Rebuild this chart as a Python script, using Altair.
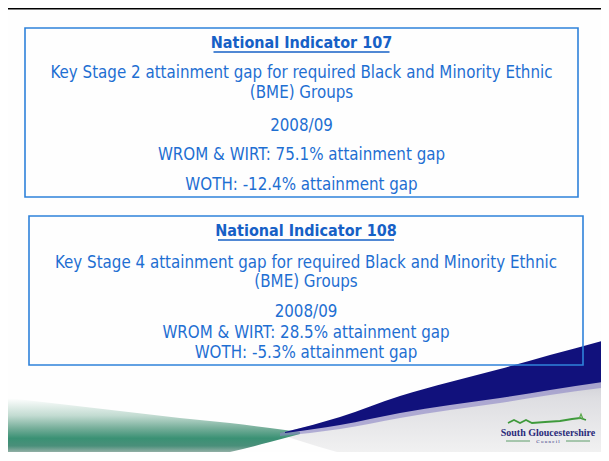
import altair as alt
import pandas as pd

# ---------------- content ----------------
indicators = [107, 108]
key_stages = [2, 4]
year = "2008/09"
wrom_wirt_gap = [75.1, 28.5]
woth_gap = [-12.4, -5.3]
logo_name = "South Gloucestershire"
logo_sub = "C o u n c i l"

# ---------------- layout (original pixel coordinates) ----------------
X0, X1 = 8, 601
Y0, Y1 = 8, 452
boxes = pd.DataFrame({
    "x": [25, 29], "x2": [578, 583], "y": [28, 216], "y2": [197, 365]
})
centers = [301.5, 306]
row_y = [[43, 73, 93, 126, 155, 185], [231, 263, 282, 312, 333, 353]]
underline_y = [52, 240]
underline_half = 88

FONT = "DejaVu Sans Condensed"
TXT_COLOR = "#1e6fd2"
TITLE_COLOR = "#1660c6"

titles, bodies = [], []
for i in range(2):
    lines = [
        f"National Indicator {indicators[i]}",
        f"Key Stage {key_stages[i]} attainment gap for required Black and Minority Ethnic",
        "(BME) Groups",
        year,
        f"WROM & WIRT: {wrom_wirt_gap[i]}% attainment gap",
        f"WOTH: {woth_gap[i]}% attainment gap",
    ]
    titles.append({"t": lines[0], "x": centers[i], "y": row_y[i][0]})
    for j in range(1, 6):
        bodies.append({"t": lines[j], "x": centers[i], "y": row_y[i][j]})
titles = pd.DataFrame(titles)
bodies = pd.DataFrame(bodies)
underlines = pd.DataFrame({
    "x": [c - underline_half for c in centers],
    "x2": [c + underline_half for c in centers],
    "y": underline_y,
})

xs = alt.Scale(domain=[X0, X1], nice=False, zero=False)
ys = alt.Scale(domain=[Y1, Y0], nice=False, zero=False)


def X(f="x"):
    return alt.X(f"{f}:Q", scale=xs, axis=None)


def Y(f="y"):
    return alt.Y(f"{f}:Q", scale=ys, axis=None)


def grad(stops, vertical=True):
    return alt.Gradient(
        gradient="linear",
        stops=[alt.GradientStop(color=c, offset=o) for o, c in stops],
        x1=0, y1=0, x2=0 if vertical else 1, y2=1 if vertical else 0,
    )


# ---------------- decorative swoosh ----------------
grey_x = [285, 330, 380, 430, 480, 540, 609]
grey_top = [434, 424, 409, 397, 388, 379, 372]
grey_bot = [436, 450, 461, 461, 461, 461, 461]
grey_df = pd.DataFrame({"x": grey_x, "y": grey_top, "y2": grey_bot})
grey = alt.Chart(grey_df).mark_area(
    interpolate="monotone",
    color=grad([(0, "#c9c9d1"), (0.3, "#dedee2"), (1, "#f4f4f4")]),
).encode(x=X(), y=Y(), y2=alt.Y2("y2"))

green_x = [8, 60, 120, 180, 230, 270, 300]
green_top = [398, 404, 411, 418, 423, 428, 432]
green_bot = [461, 461, 461, 460, 452, 442, 434]
green_df = pd.DataFrame({"x": green_x, "y": green_top, "y2": green_bot})
green = alt.Chart(green_df).mark_area(
    interpolate="monotone",
    color=grad([(0, "#ffffff"), (0.28, "#c2dbd1"), (0.48, "#76ae9a"),
                (0.64, "#3a9174"), (0.76, "#4a8f7a"), (0.88, "#a3b7b0"), (1, "#cbd1cf")]),
).encode(x=X(), y=Y(), y2=alt.Y2("y2"))

shadow_x = [280, 340, 400, 450, 500, 550, 609]
shadow_top = [433, 418, 398, 385, 372, 358, 342]
shadow_bot = [436, 429, 418, 410, 403, 395, 387]
shadow = alt.Chart(pd.DataFrame({"x": shadow_x, "y": shadow_top, "y2": shadow_bot})).mark_area(
    interpolate="monotone", color="#8a84c4", opacity=0.6
).encode(x=X(), y=Y(), y2=alt.Y2("y2"))

navy_x = [285, 340, 400, 450, 500, 550, 609]
navy_top = [432, 417, 396, 382, 369, 355, 339]
navy_bot = [433, 425, 413, 405, 398, 390, 381]
navy = alt.Chart(pd.DataFrame({"x": navy_x, "y": navy_top, "y2": navy_bot})).mark_area(
    interpolate="monotone", color="#11117c"
).encode(x=X(), y=Y(), y2=alt.Y2("y2"))

# ---------------- logo ----------------
hill_df = pd.DataFrame({"x": [508, 514, 520, 526, 532, 545, 560, 572, 580, 586],
                        "y": [423, 420, 423, 420, 423, 422, 421, 419, 418, 420]})
hill = alt.Chart(hill_df).mark_line(color="#3f9a3c", strokeWidth=1.8).encode(x=X(), y=Y())
tree_df = pd.DataFrame({"x": [579, 581, 583], "y": [419, 414, 419]})
tree = alt.Chart(tree_df).mark_line(color="#5aa84a", strokeWidth=1.2).encode(x=X(), y=Y())
logo_txt = alt.Chart(pd.DataFrame({"t": [logo_name], "x": [548], "y": [433]})).mark_text(
    font="Liberation Serif", fontWeight="bold", fontSize=10, color="#2a2a7a", baseline="middle"
).encode(x=X(), y=Y(), text="t:N")
logo_sub_txt = alt.Chart(pd.DataFrame({"t": [logo_sub], "x": [548], "y": [441]})).mark_text(
    font="Liberation Serif", fontSize=5, color="#2a2a7a", baseline="middle"
).encode(x=X(), y=Y(), text="t:N")
logo_lines = alt.Chart(pd.DataFrame({"x": [506, 566], "x2": [530, 590], "y": [441, 441]})).mark_rule(
    color="#3a8a4a", strokeWidth=0.8
).encode(x=X(), x2=alt.X2("x2"), y=Y())

# ---------------- frame, boxes, text ----------------
frame = alt.Chart(pd.DataFrame({"x": [X0], "x2": [X1], "y": [8.6]})).mark_rule(
    color="#000000", strokeWidth=1.6
).encode(x=X(), x2=alt.X2("x2"), y=Y())

box_layer = alt.Chart(boxes).mark_rect(
    fillOpacity=0, stroke="#2f82da", strokeWidth=1.6
).encode(x=X(), x2=alt.X2("x2"), y=Y(), y2=alt.Y2("y2"))

title_layer = alt.Chart(titles).mark_text(
    font=FONT, fontSize=16, fontWeight="bold", color=TITLE_COLOR, baseline="middle"
).encode(x=X(), y=Y(), text="t:N")

ul_layer = alt.Chart(underlines).mark_rule(color=TITLE_COLOR, strokeWidth=1.5).encode(
    x=X(), x2=alt.X2("x2"), y=Y()
)

body_layer = alt.Chart(bodies).mark_text(
    font=FONT, fontSize=16.8, color=TXT_COLOR, baseline="middle"
).encode(x=X(), y=Y(), text="t:N")

chart = alt.layer(
    grey, green, shadow, navy, hill, tree, logo_lines, logo_txt, logo_sub_txt,
    frame, box_layer, title_layer, ul_layer, body_layer
).properties(
    width=X1 - X0, height=Y1 - Y0, padding=0, autosize=alt.AutoSizeParams(type="none"),
    background="#fefefe",
).configure_view(stroke=None)

chart.save("out.html", embed_options={"renderer": "svg", "actions": False})
